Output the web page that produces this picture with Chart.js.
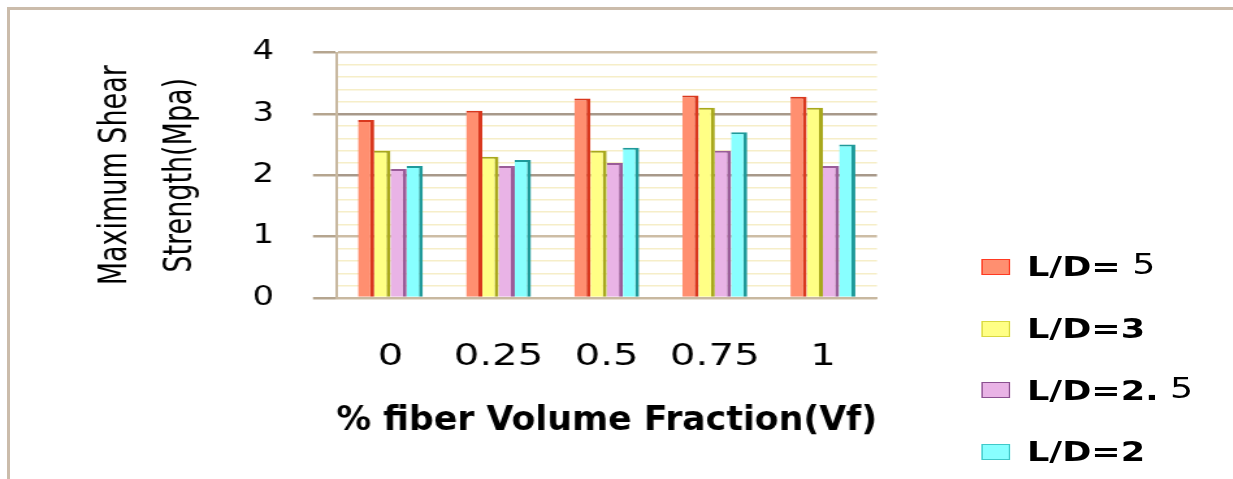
<!DOCTYPE html>
<html>
<head>
<meta charset="utf-8">
<script src="https://cdn.jsdelivr.net/npm/chart.js@4.4.0/dist/chart.umd.min.js"></script>
<style>
body { margin:0; background:#fff; overflow:hidden; }
#frame { position:absolute; left:7px; top:7px; width:1240px; height:480px; border-top:3px solid #cbbcab; border-left:3px solid #cbbcab; }
/* the original picture is stretched sideways, so the whole chart is too */
#wrap { position:absolute; left:0; top:0; width:948px; height:479px; transform:scaleX(1.3); transform-origin:0 0; }
#legend { position:absolute; left:755px; top:236px; font-family:'DejaVu Sans', sans-serif; font-weight:bold; font-size:27px; color:#000; }
.item { height:61.7px; display:flex; align-items:center; white-space:nowrap; }
.box { width:20px; height:14px; border:1.5px solid; margin-right:13px; }
.alt { font-weight:normal; font-size:28px; position:relative; top:-2px; }
</style>
</head>
<body>
<div id="frame"></div>
<div id="wrap">
  <canvas id="chart"></canvas>
  <div id="legend"></div>
</div>
<script>
/* data */
const fractions = ['0', '0.25', '0.5', '0.75', '1'];
const seriesNames = ['L/D= 5', 'L/D=3', 'L/D=2. 5', 'L/D=2'];
const ld5  = [2.9, 3.05, 3.25, 3.3, 3.28];
const ld3  = [2.4, 2.3, 2.4, 3.1, 3.1];
const ld25 = [2.1, 2.15, 2.2, 2.4, 2.15];
const ld2  = [2.15, 2.25, 2.45, 2.7, 2.5];
const yTicks = [0, 1, 2, 3, 4];

const fills   = ['#ff8f70', '#ffff85', '#e9b3e6', '#88ffff'];
const edges   = ['#d9381e', '#a8a81c', '#9a5c98', '#1f9a9a'];
const boxLine = ['#ff3a22', '#d8d840', '#8a5090', '#40c8c8'];

const isMajor = v => yTicks.some(t => Math.abs(t - v) < 1e-6);

const ctx = document.getElementById('chart');
new Chart(ctx, {
  type: 'bar',
  data: {
    labels: fractions,
    datasets: [ld5, ld3, ld25, ld2].map((vals, i) => ({
      label: seriesNames[i],
      data: vals,
      backgroundColor: fills[i],
      borderColor: edges[i],
      borderWidth: {top: 2, right: 3, bottom: 0, left: 0},
      borderSkipped: false,
      categoryPercentage: 0.6,
      barPercentage: 1
    }))
  },
  options: {
    responsive: true,
    maintainAspectRatio: false,
    animation: false,
    layout: {
      padding: {left: 60, top: 52.5, right: 273.4, bottom: 37}
    },
    plugins: {
      legend: {display: false},
      tooltip: {enabled: false}
    },
    scales: {
      x: {
        grid: {display: false},
        border: {color: '#c8b8a0', width: 2},
        ticks: {
          color: '#000',
          padding: 32,
          font: {family: "'DejaVu Sans', sans-serif", size: 31}
        },
        title: {
          display: true,
          text: '% fiber Volume Fraction(Vf)',
          align: 'start',
          color: '#000',
          padding: {top: -6, bottom: 0},
          font: {family: "'DejaVu Sans', sans-serif", size: 34, weight: 'bold'}
        }
      },
      y: {
        min: 0,
        max: 4,
        border: {color: '#c8b8a0', width: 2},
        grid: {
          color: c => {
            const v = c.tick.value;
            if (Math.abs(v - 2) < 1e-6 || Math.abs(v - 3) < 1e-6) return '#a8998a';
            return isMajor(v) ? '#cdbda5' : '#f6eec8';
          },
          lineWidth: c => isMajor(c.tick.value) ? 2.5 : 1.5,
          tickColor: c => isMajor(c.tick.value) ? '#b5a58f' : 'rgba(0,0,0,0)',
          tickLength: 18
        },
        ticks: {
          stepSize: 0.2,
          autoSkip: false,
          color: '#000',
          padding: 30,
          font: {family: "'DejaVu Sans', sans-serif", size: 26},
          callback: v => isMajor(v) ? String(Math.round(v)) : ''
        },
        title: {
          display: true,
          text: ['Maximum Shear', 'Strength(Mpa)'],
          color: '#000',
          padding: {top: 4, bottom: 0},
          font: {family: "'DejaVu Sans Condensed', 'Liberation Sans Narrow', sans-serif", size: 30, lineHeight: 1.67}
        }
      }
    }
  }
});

/* legend */
const legend = document.getElementById('legend');
seriesNames.forEach((name, i) => {
  const row = document.createElement('div');
  row.className = 'item';
  row.innerHTML = '<div class="box" style="background:' + fills[i] + ';border-color:' + boxLine[i] + '"></div>' +
    '<span>' + name.replace(/ 5$/, '<span class="alt"> 5</span>') + '</span>';
  legend.appendChild(row);
});
</script>
</body>
</html>
